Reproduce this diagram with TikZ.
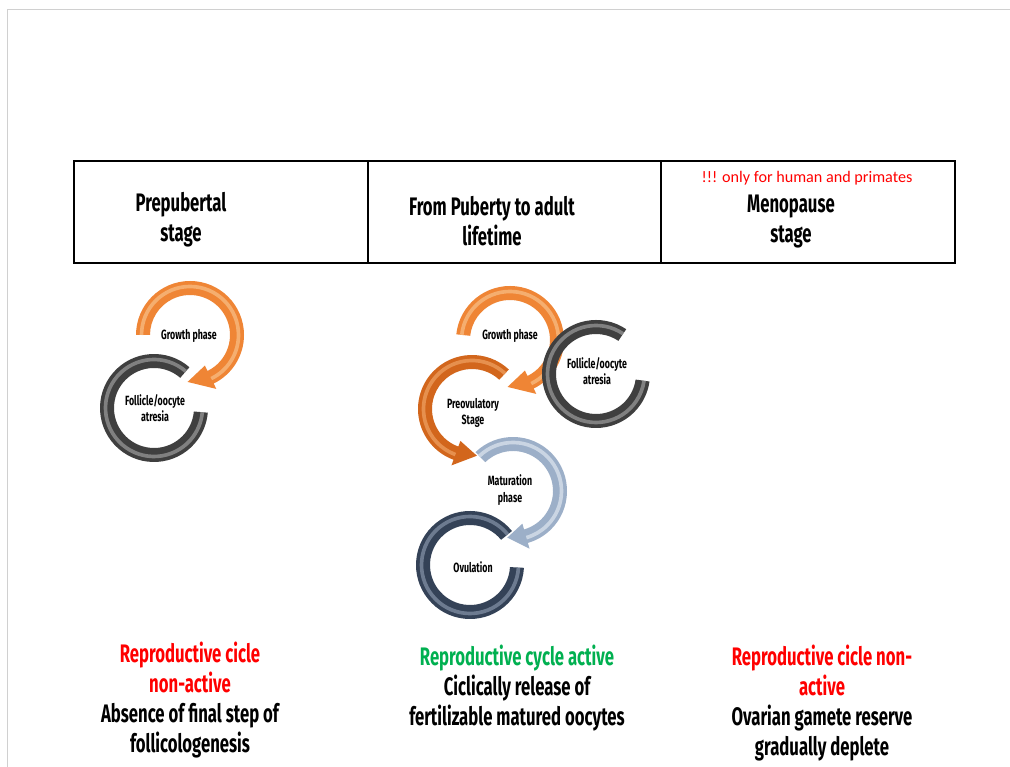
\documentclass[tikz,border=0pt]{standalone}
\usepackage{fontspec}
\newfontfamily\condfont[FakeStretch=0.66]{Fira Sans}
\newfontfamily\notefont{Carlito}

\definecolor{slideLine}{HTML}{D0D0D0}
\definecolor{growthOrange}{HTML}{EF8535}
\definecolor{growthLight}{HTML}{F9C48F}
\definecolor{preovOrange}{HTML}{D2661C}
\definecolor{preovLight}{HTML}{F2A76A}
\definecolor{atresiaGray}{HTML}{3F3F3F}
\definecolor{atresiaLight}{HTML}{A3A3A3}
\definecolor{maturBlue}{HTML}{9CAFC8}
\definecolor{maturLight}{HTML}{E3EAF2}
\definecolor{ovulNavy}{HTML}{344257}
\definecolor{ovulLight}{HTML}{8D9BB0}
\definecolor{inactiveRed}{HTML}{FF0000}
\definecolor{activeGreen}{HTML}{00B050}

\begin{document}
\begin{tikzpicture}[x=0.025cm,y=0.025cm,
    stagetext/.style={font=\condfont\bfseries\fontsize{18}{21.3}\selectfont, align=center},
    ringlabel/.style={font=\condfont\bfseries\fontsize{9.5}{11.5}\selectfont, align=center, inner sep=0pt},
    notetext/.style={font=\notefont\fontsize{11.5}{13}\selectfont, text=inactiveRed}]
	\newcommand{\ringOut}{54}
	\newcommand{\ringIn}{40}
	\newcommand{\ringMid}{47}
	\newcommand{\ringShine}{48.5}
	\newcommand{\headOut}{60}
	\newcommand{\headIn}{34}
	% circular arrow: centre x, centre y, start, body end, tip, colour, light colour
	\newcommand{\circArrow}[7]{%
		\begin{scope}[shift={(#1,#2)}]
		\fill[#6] (#3:\ringOut) arc[start angle=#3, end angle=#4, radius=\ringOut] -- (#4:\headOut) -- (#5:\ringMid) -- (#4:\headIn) -- (#4:\ringIn) arc[start angle=#4, end angle=#3, radius=\ringIn] -- cycle;
		\draw[#7, line width=2.6pt, opacity=0.65] (#3:\ringShine) arc[start angle=#3, end angle=#4, radius=\ringShine];
		\end{scope}}
	% ring without head: centre x, centre y, start, end, colour, light colour
	\newcommand{\circRing}[6]{%
		\begin{scope}[shift={(#1,#2)}]
		\fill[#5] (#3:\ringOut) arc[start angle=#3, end angle=#4, radius=\ringOut] -- (#4:\ringIn) arc[start angle=#4, end angle=#3, radius=\ringIn] -- cycle;
		\draw[#6, line width=2.6pt, opacity=0.65] (#3:\ringShine) arc[start angle=#3, end angle=#4, radius=\ringShine];
		\end{scope}}

	\useasboundingbox (0,0) rectangle (1010,767);
	\fill[white] (0,0) rectangle (1010,767);	% background
	\draw[slideLine, line width=1.2pt] (7.5,0) -- (7.5,757.5) -- (1010,757.5);	% slide edge

	% stage table
	\draw[black, line width=1.1pt] (74,504) rectangle (955,606);
	\draw[black, line width=1.1pt] (368,504) -- (368,606);
	\draw[black, line width=1.1pt] (661,504) -- (661,606);
	\node[stagetext] (prepubertal) at (181,547) {Prepubertal\\stage};
	\node[stagetext] (puberty) at (492,546) {From Puberty to adult\\lifetime};
	\node[notetext] (primates) at (807,589) {!!! only for human and primates};
	\node[stagetext] (menopause) at (791,545) {Menopause\\stage};

	% prepubertal cycle
	\circArrow{190}{432}{180}{-64}{-93}{growthOrange}{growthLight}
	\circRing{154}{359}{49}{355}{atresiaGray}{atresiaLight}
	\node[ringlabel] (growthA) at (189,431) {Growth phase};
	\node[ringlabel] (atresiaA) at (155,359) {Follicle/oocyte\\atresia};

	% adult cycle
	\circRing{470}{202}{39}{357}{ovulNavy}{ovulLight}
	\circArrow{513}{276}{134}{-74}{-97}{maturBlue}{maturLight}
	\circArrow{472}{358}{47}{250}{276}{preovOrange}{preovLight}
	\circArrow{510}{427}{174}{-64}{-93}{growthOrange}{growthLight}
	\circRing{596}{393}{56}{352}{atresiaGray}{atresiaLight}
	\node[ringlabel] (growthB) at (510,431) {Growth phase};
	\node[ringlabel] (atresiaB) at (597,396) {Follicle/oocyte\\atresia};
	\node[ringlabel] (preovulatory) at (473,354) {Preovulatory\\Stage};
	\node[ringlabel] (maturation) at (510,277) {Maturation\\phase};
	\node[ringlabel] (ovulation) at (473,200) {Ovulation};

	% outcomes
	\node[stagetext] (outcomeA) at (190,67) {\textcolor{inactiveRed}{Reproductive cicle}\\\textcolor{inactiveRed}{non-active}\\Absence of final step of\\follicologenesis};
	\node[stagetext] (outcomeB) at (517,79) {\textcolor{activeGreen}{Reproductive cycle active}\\Ciclically release of\\fertilizable matured oocytes};
	\node[stagetext] (outcomeC) at (822,64) {\textcolor{inactiveRed}{Reproductive cicle non-}\\\textcolor{inactiveRed}{active}\\Ovarian gamete reserve\\gradually deplete};
\end{tikzpicture}
\end{document}
